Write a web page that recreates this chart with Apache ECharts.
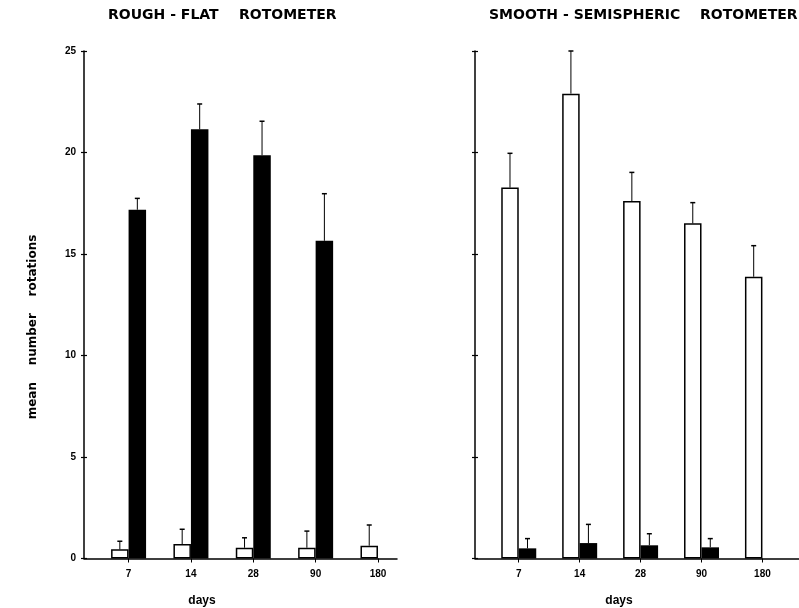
<!DOCTYPE html>
<html>
<head>
<meta charset="utf-8">
<script src="https://cdn.jsdelivr.net/npm/echarts@6/dist/echarts.min.js"></script>
<style>html,body{margin:0;padding:0;background:#fff}#c{width:799px;height:608px}</style>
</head>
<body>
<div id="c"></div>
<script>
// ---- data ----
const days = ['7', '14', '28', '90', '180'];
const yTicks = [0, 5, 10, 15, 20, 25];
// Rough-flat rotometer
const roughOpen = [0.45, 0.71, 0.53, 0.53, 0.63];
const roughOpenSD = [0.40, 0.73, 0.49, 0.82, 1.02];
const roughFilled = [17.18, 21.14, 19.86, 15.65, null];
const roughFilledSD = [0.56, 1.25, 1.68, 2.32, null];
// Smooth-semispheric rotometer
const smoothOpen = [18.27, 22.90, 17.61, 16.51, 13.88];
const smoothOpenSD = [1.69, 2.10, 1.41, 1.02, 1.53];
const smoothFilled = [0.50, 0.76, 0.65, 0.55, null];
const smoothFilledSD = [0.48, 0.92, 0.57, 0.43, null];

const BW = 17.5;
const pos = days.map((d, i) => i + 1);
const barData = vals => vals.map((v, i) => v == null ? [pos[i], '-'] : [pos[i], v]);
const errData = (vals, sd, side) => vals.map((v, i) => v == null ? null : [pos[i], v, v + sd[i], side]).filter(d => d);

function errRender(params, api) {
  const x = api.value(0), m = api.value(1), u = api.value(2), side = api.value(3);
  const p0 = api.coord([x, m]);
  const p1 = api.coord([x, u]);
  const cx = p0[0] + side * BW / 2;
  return {
    type: 'group',
    children: [
      {type: 'line', shape: {x1: cx, y1: p0[1], x2: cx, y2: p1[1]}, style: {stroke: '#000', lineWidth: 1}},
      {type: 'line', shape: {x1: cx - 2.5, y1: p1[1], x2: cx + 2.5, y2: p1[1]}, style: {stroke: '#000', lineWidth: 1.5}}
    ]
  };
}

const lbl = {color: '#000', fontFamily: 'Liberation Sans', fontWeight: 'bold', fontSize: 10};
function xAx(g, min, max) {
  return {
    gridIndex: g, type: 'value', min: min, max: max,
    axisLine: {show: true, onZero: false, lineStyle: {color: '#000', width: 1.5}},
    axisTick: {show: true, customValues: pos, length: 4, lineStyle: {color: '#000', width: 1}},
    axisLabel: Object.assign({show: true, customValues: pos, margin: 11, formatter: v => days[Math.round(v) - 1] || ''}, lbl),
    splitLine: {show: false}
  };
}
function yAx(g, labels, inside) {
  return {
    gridIndex: g, type: 'value', position: 'left', min: 0, max: 25, interval: 5,
    axisLine: {show: !inside, lineStyle: {color: '#000', width: 1.5}},
    axisTick: {show: true, inside: inside, length: 3, lineStyle: {color: '#000', width: 1.2}},
    axisLabel: Object.assign({show: labels, margin: 8}, lbl),
    splitLine: {show: false}
  };
}

function bars(name, data, xi, yi, open) {
  return {
    name: name, type: 'bar', xAxisIndex: xi, yAxisIndex: yi, data: data,
    barWidth: BW, barGap: '0%',
    itemStyle: open ? {color: '#fff', borderColor: '#000', borderWidth: 1.5} : {color: '#000'}
  };
}
function errs(data, xi, yi) {
  return {type: 'custom', xAxisIndex: xi, yAxisIndex: yi, renderItem: errRender, data: data, z: 3};
}

const titleFont = 'bold 14px "DejaVu Sans"';
const option = {
  animation: false,
  backgroundColor: '#fff',
  grid: [
    {left: 84, top: 51, width: 313, height: 507.5},
    {left: 475, top: 51, width: 324, height: 507.5}
  ],
  xAxis: [xAx(0, 0.285, 5.305), xAx(1, 0.282, 5.6)],
  yAxis: [yAx(0, true, false), yAx(1, false, false), yAx(0, false, true), yAx(1, false, true)],
  series: [
    bars('open', barData(roughOpen), 0, 0, true),
    bars('filled', barData(roughFilled), 0, 0, false),
    errs(errData(roughOpen, roughOpenSD, -1), 0, 0),
    errs(errData(roughFilled, roughFilledSD, 1), 0, 0),
    bars('open', barData(smoothOpen), 1, 1, true),
    bars('filled', barData(smoothFilled), 1, 1, false),
    errs(errData(smoothOpen, smoothOpenSD, -1), 1, 1),
    errs(errData(smoothFilled, smoothFilledSD, 1), 1, 1)
  ],
  graphic: [
    {type: 'text', x: 108, y: 15, style: {text: 'ROUGH - FLAT', font: titleFont, fill: '#000', verticalAlign: 'middle'}},
    {type: 'text', x: 239, y: 15, style: {text: 'ROTOMETER', font: titleFont, fill: '#000', verticalAlign: 'middle'}},
    {type: 'text', x: 489, y: 15, style: {text: 'SMOOTH - SEMISPHERIC', font: titleFont, fill: '#000', verticalAlign: 'middle'}},
    {type: 'text', x: 700, y: 15, style: {text: 'ROTOMETER', font: titleFont, fill: '#000', verticalAlign: 'middle'}},
    {type: 'text', x: 33, y: 327, rotation: Math.PI / 2,
     style: {text: 'mean    number    rotations', font: 'bold 12px "DejaVu Sans"', fill: '#000', align: 'center', verticalAlign: 'middle'}},
    {type: 'text', x: 202, y: 601, style: {text: 'days', font: 'bold 12px "Liberation Sans"', fill: '#000', align: 'center', verticalAlign: 'middle'}},
    {type: 'text', x: 619, y: 601, style: {text: 'days', font: 'bold 12px "Liberation Sans"', fill: '#000', align: 'center', verticalAlign: 'middle'}}
  ]
};
echarts.init(document.getElementById('c')).setOption(option);
</script>
</body>
</html>
